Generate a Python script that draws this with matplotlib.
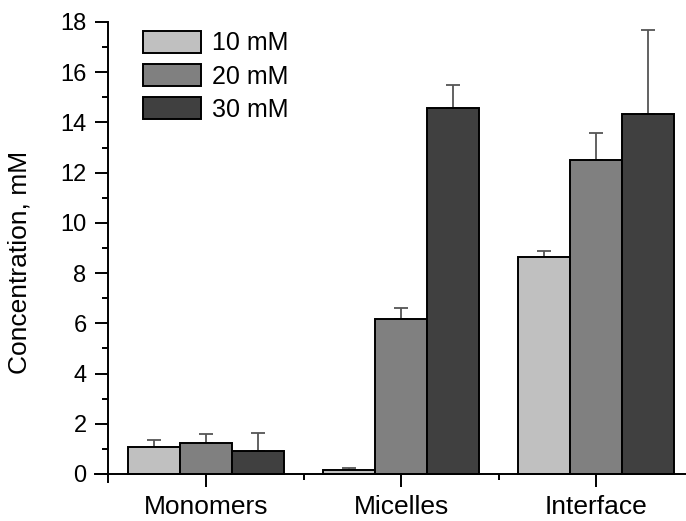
import matplotlib
matplotlib.use("Agg")
import matplotlib.pyplot as plt
import numpy as np

plt.rcParams["font.family"] = ["Liberation Sans", "DejaVu Sans"]

# ===== Data =====
categories = ["Monomers", "Micelles", "Interface"]
series_labels = ["10 mM", "20 mM", "30 mM"]
values_10 = [1.08, 0.15, 8.66]
values_20 = [1.24, 6.18, 12.51]
values_30 = [0.92, 14.59, 14.33]
errors_10 = [0.27, 0.08, 0.22]
errors_20 = [0.35, 0.43, 1.08]
errors_30 = [0.71, 0.91, 3.36]

colors = ["#c0c0c0", "#808080", "#404040"]
BAR_W = 0.267

fig = plt.figure(figsize=(6.86, 5.21), dpi=100)
ax = fig.add_axes([0.1385, 0.0749, 0.8615, 0.8829])

x = np.arange(len(categories))
all_vals = [values_10, values_20, values_30]
all_errs = [errors_10, errors_20, errors_30]

for i, (vals, errs) in enumerate(zip(all_vals, all_errs)):
    pos = x + (i - 1) * BAR_W
    ax.bar(pos, vals, width=BAR_W, color=colors[i], edgecolor="black",
           linewidth=1.4, label=series_labels[i], zorder=2)
    ax.errorbar(pos, vals, yerr=[np.zeros(len(vals)), errs], fmt="none",
                ecolor="#555555", elinewidth=1.3, capsize=5, capthick=1.3,
                zorder=1)

ax.set_xlim(-0.57, 2.46)
ax.set_ylim(-0.32, 18)

for s in ["top", "right"]:
    ax.spines[s].set_visible(False)
ax.spines["bottom"].set_position(("data", 0))
ax.spines["left"].set_position(("data", -0.503))
ax.spines["left"].set_bounds(-0.32, 18)
ax.spines["left"].set_linewidth(1.4)
ax.spines["bottom"].set_linewidth(1.4)

ax.set_xticks(x)
ax.set_xticklabels(categories, fontsize=19)
ax.set_xticks([0.5, 1.5], minor=True)
ax.set_yticks(np.arange(0, 19, 2))
ax.set_yticks(np.arange(1, 18, 2), minor=True)
ax.tick_params(axis="both", which="major", direction="out", length=9.5,
               width=1.4, labelsize=17, pad=6)
ax.tick_params(axis="x", which="major", labelsize=19, pad=6)
ax.tick_params(axis="both", which="minor", direction="out", length=4.5,
               width=1.4)

ax.set_ylabel("Concentration, mM", fontsize=19)
ax.yaxis.set_label_coords(-0.107, 0.478)

ax.legend(loc="upper left", bbox_to_anchor=(143 / 686, 1 - 31 / 521),
          bbox_transform=fig.transFigure, frameon=False, fontsize=18,
          handlelength=2.3, handleheight=0.95, handletextpad=0.45,
          labelspacing=0.35, borderpad=0, borderaxespad=0)

fig.savefig("out.png", dpi=100)
